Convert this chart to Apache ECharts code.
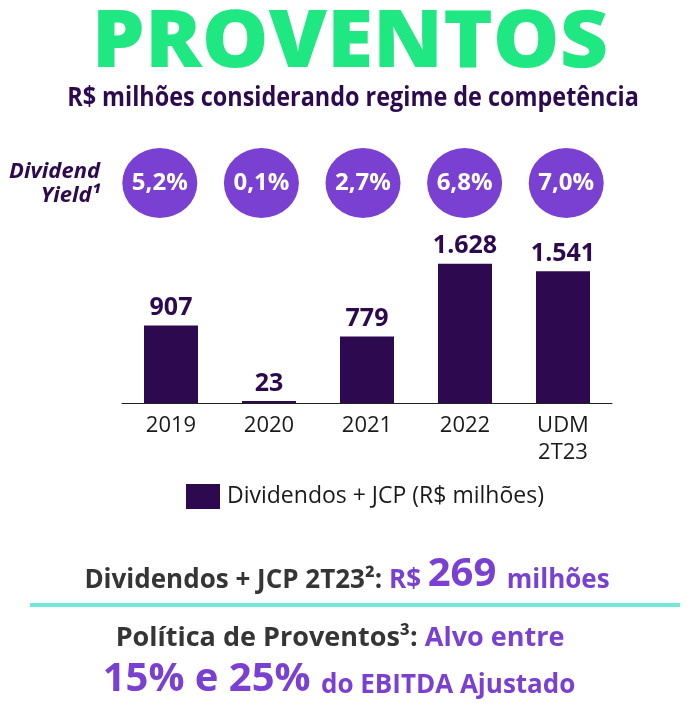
<!DOCTYPE html>
<html><head><meta charset="utf-8">
<script src="https://cdn.jsdelivr.net/npm/echarts@6/dist/echarts.min.js"></script>
<style>html,body{margin:0;padding:0;background:#fff}#c{width:693px;height:707px}</style>
</head><body><div id="c"></div>
<script>
const categories = ['2019', '2020', '2021', '2022', 'UDM\n2T23'];
const values = [907, 23, 779, 1628, 1541];
const valueLabels = ['907', '23', '779', '1.628', '1.541'];
const yields = ['5,2%', '0,1%', '2,7%', '6,8%', '7,0%'];
const seriesName = 'Dividendos + JCP (R$ milhões)';

const DARK = '#2d0a4f', PURPLE = '#7a40d2', GRAY = '#353535', FONT = '"Open Sans", sans-serif';
const chart = echarts.init(document.getElementById('c'));
chart.setOption({
  animation: false,
  textStyle: { fontFamily: FONT },
  grid: [
    { left: 122, width: 490, top: 232, height: 171 },
    { left: 109, width: 508, top: 147, height: 72 }
  ],
  xAxis: [
    { type: 'category', data: categories, gridIndex: 0,
      axisLine: { lineStyle: { color: '#222', width: 1 } }, axisTick: { show: false },
      axisLabel: { fontSize: 22, color: '#1a1a1a', margin: 9, lineHeight: 27, fontFamily: FONT } },
    { type: 'category', data: yields, gridIndex: 1, show: false }
  ],
  yAxis: [
    { type: 'value', min: 0, max: 2000, show: false, gridIndex: 0 },
    { type: 'value', min: 0, max: 1, show: false, gridIndex: 1 }
  ],
  legend: {
    data: [seriesName], left: 186, top: 484, padding: 0, itemWidth: 34, itemHeight: 25, itemGap: 6,
    textStyle: { fontSize: 23, color: '#1a1a1a', fontFamily: FONT, padding: [0, 0, 0, 2] }, icon: 'rect'
  },
  series: [
    { name: seriesName, type: 'bar', data: values, barWidth: 54, itemStyle: { color: DARK },
      label: { show: true, position: 'top', distance: 5, fontSize: 25, fontWeight: 'bold', color: DARK, fontFamily: FONT,
        formatter: p => valueLabels[p.dataIndex] } },
    { type: 'scatter', xAxisIndex: 1, yAxisIndex: 1, data: yields.map(() => 0.5), symbol: 'circle', symbolSize: [75, 70],
      itemStyle: { color: PURPLE, opacity: 1 },
      label: { show: true, position: 'inside', color: '#fff', fontSize: 24, fontWeight: 'bold', fontFamily: FONT,
        formatter: p => yields[p.dataIndex] } }
  ],
  graphic: [
    { type: 'text', x: 350, y: 44, scaleX: 1.05, style: { text: 'PROVENTOS', fontSize: 80, fontWeight: 800, fontFamily: FONT, fill: '#1fe882', align: 'center', verticalAlign: 'middle' } },
    { type: 'text', x: 353, y: 99, scaleX: 0.9, style: { text: 'R$ milhões considerando regime de competência', fontSize: 26, fontWeight: 'bold', fontFamily: FONT, fill: DARK, align: 'center', verticalAlign: 'middle' } },
    { type: 'text', x: 100, y: 184, style: { text: 'Dividend\nYield¹', fontSize: 22, lineHeight: 24, fontWeight: 'bold', fontStyle: 'italic', fontFamily: FONT, fill: DARK, align: 'right', verticalAlign: 'middle' } },
    { type: 'text', x: 347, y: 575, style: { text: '{a|Dividendos + JCP 2T23²: }{b|R$ }{c|269 }{b|milhões}', align: 'center', verticalAlign: 'middle',
      rich: { a: { fontSize: 26, fontWeight: 'bold', fontFamily: FONT, fill: GRAY, padding: [11, 0, 0, 0] },
              b: { fontSize: 26, fontWeight: 'bold', fontFamily: FONT, fill: PURPLE, padding: [11, 0, 0, 0] },
              c: { fontSize: 40, fontWeight: 'bold', fontFamily: FONT, fill: PURPLE } } } },
    { type: 'rect', shape: { x: 30, y: 603, width: 650, height: 4 }, style: { fill: '#74e8d8' } },
    { type: 'text', x: 340, y: 638, style: { text: '{a|Política de Proventos³: }{b|Alvo entre}', align: 'center', verticalAlign: 'middle',
      rich: { a: { fontSize: 27, fontWeight: 'bold', fontFamily: FONT, fill: GRAY },
              b: { fontSize: 27, fontWeight: 'bold', fontFamily: FONT, fill: PURPLE } } } },
    { type: 'text', x: 339, y: 680, style: { text: '{c|15% e 25% }{b|do EBITDA Ajustado}', align: 'center', verticalAlign: 'middle',
      rich: { c: { fontSize: 40, fontWeight: 'bold', fontFamily: FONT, fill: PURPLE },
              b: { fontSize: 26, fontWeight: 'bold', fontFamily: FONT, fill: PURPLE, padding: [11, 0, 0, 0] } } } }
  ]
});
</script></body></html>
